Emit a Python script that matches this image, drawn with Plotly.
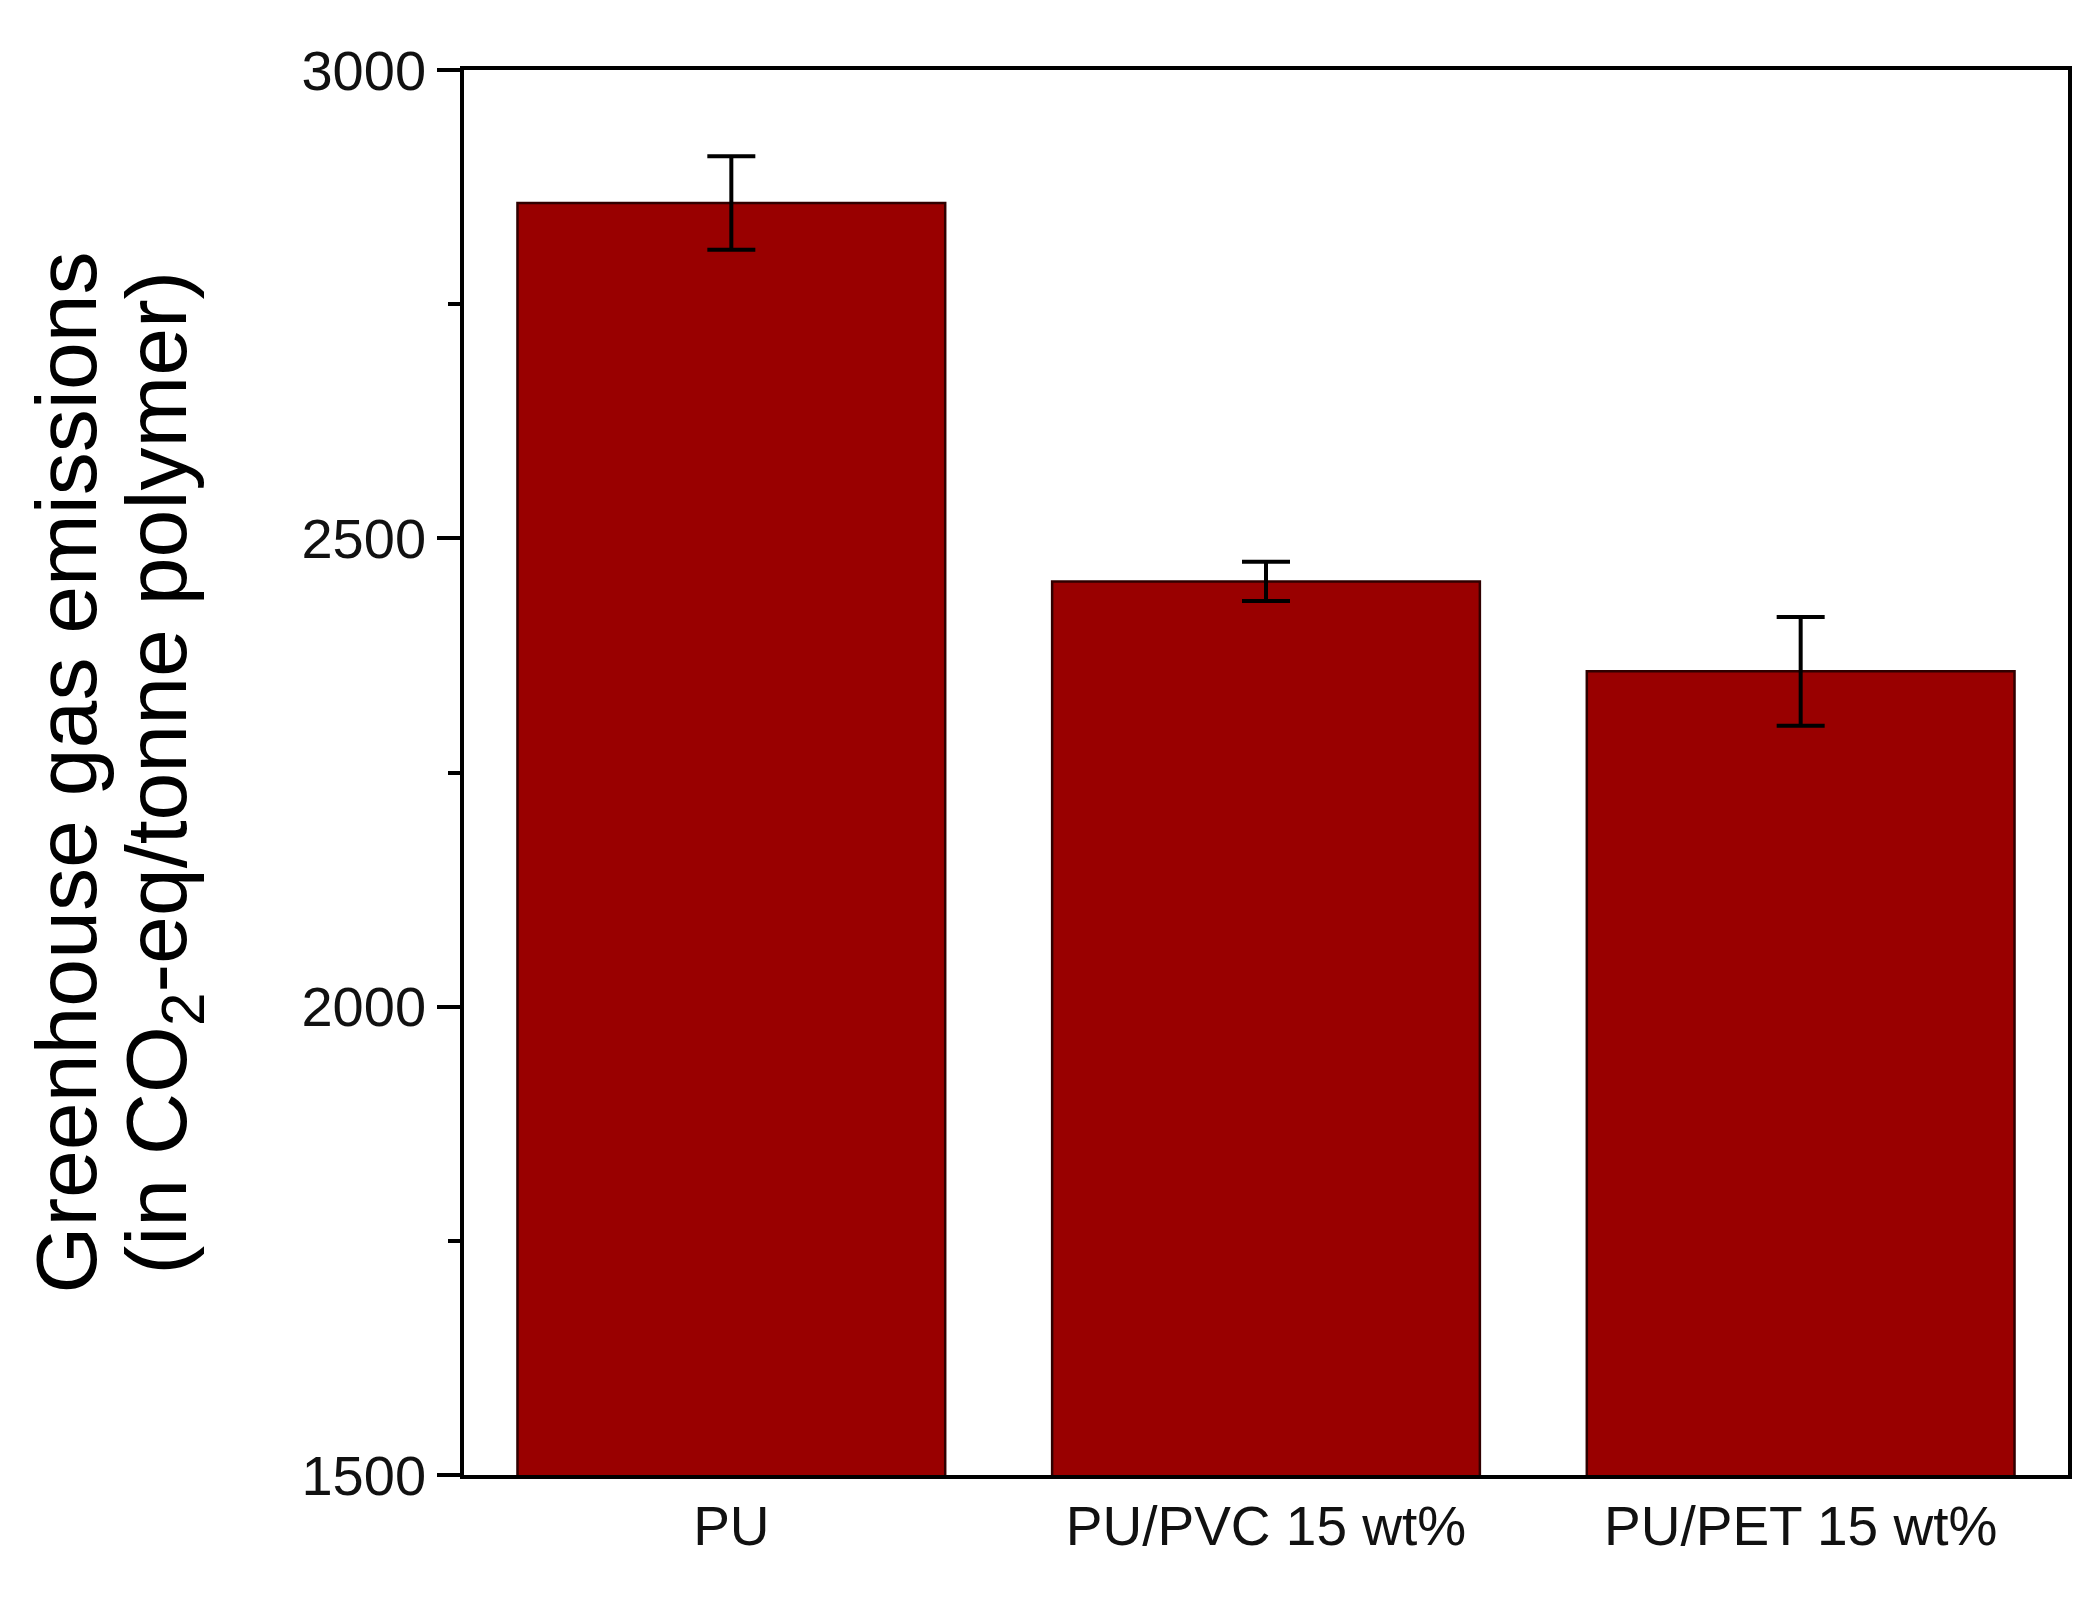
import plotly.graph_objects as go

# data
samples = ['PU', 'PU/PVC 15 wt%', 'PU/PET 15 wt%']
emissions = [2858, 2454, 2358]
emission_err = [50, 21, 58]
y_ticks = [1500, 2000, 2500, 3000]

# page body adds an 8px margin, so the figure starts at (8, 8)
W, H = 2091, 1590
left, right, top, bottom = 456, 31, 62, 123

fig = go.Figure()
fig.add_trace(go.Bar(
    x=samples,
    y=emissions,
    width=0.8,
    marker=dict(color='#990000', line=dict(color='#300000', width=2.5)),
    error_y=dict(type='data', array=emission_err, visible=True,
                 color='black', thickness=4, width=24),
))

fig.update_layout(
    width=W, height=H,
    margin=dict(l=left, r=right, t=top, b=bottom, pad=0),
    plot_bgcolor='white', paper_bgcolor='white',
    showlegend=False,
    bargap=0.2,
    font=dict(family='Liberation Sans, Arial, sans-serif', color='black'),
)

fig.update_xaxes(
    type='category', range=[-0.5, 2.5],
    showline=True, linecolor='black', linewidth=3.5, mirror=True,
    ticks='', showgrid=False, zeroline=False,
    tickfont=dict(size=55, color='#111111'),
)
fig.update_yaxes(
    range=[1500, 3000], tickvals=y_ticks,
    showline=True, linecolor='black', linewidth=3.5, mirror=True,
    ticks='outside', ticklen=23, tickwidth=3.5, tickcolor='black',
    minor=dict(dtick=250, ticks='outside', ticklen=12, tickwidth=3.5, tickcolor='black'),
    showgrid=False, zeroline=False,
    tickfont=dict(size=56, color='#111111'),
)

# two-line y axis title, placed as rotated annotations
pw = W - left - right
for text, px in [('Greenhouse gas emissions', 57),
                 ('(in CO<sub>2</sub>-eq/tonne polymer)', 154)]:
    fig.add_annotation(
        x=(px - left) / pw, xref='paper', xanchor='center',
        y=0.5, yref='paper', yanchor='middle',
        text=text, textangle=-90, showarrow=False,
        font=dict(size=86, color='black'),
    )

fig.write_html("out.html")
